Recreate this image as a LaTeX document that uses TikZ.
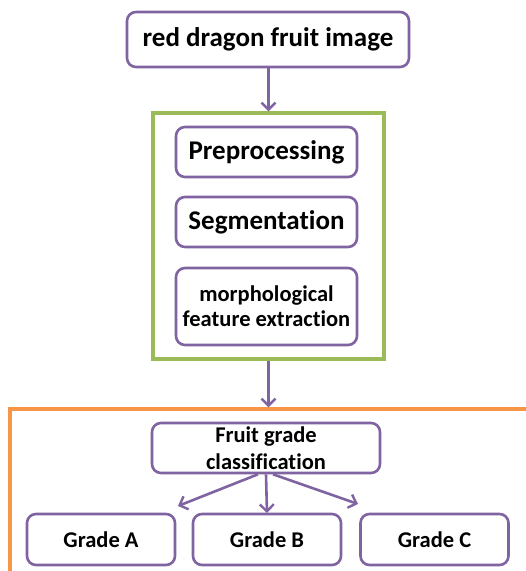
\documentclass[tikz,border=0pt]{standalone}
\usepackage{fontspec}
\setmainfont{Carlito}[Ligatures=NoCommon]
\usetikzlibrary{arrows.meta}
\definecolor{ppl}{HTML}{8064A2}
\definecolor{grn}{HTML}{9BBB59}
\definecolor{org}{HTML}{F79646}
\begin{document}
\begin{tikzpicture}[x=1pt,y=-1pt,
  pbox/.style={draw=ppl,line width=2.6pt,rounded corners=9pt,fill=white,align=center,inner sep=0pt,font=\bfseries},
  frmbox/.style={draw,line width=3.4pt,inner sep=0pt},
  arr/.style={draw=ppl,line width=2.6pt,-{Straight Barb[length=7pt,width=14pt,line width=2.4pt]}}]
\useasboundingbox (0,0) rectangle (526,571);
\clip (0,0) rectangle (526,571);
\fill[white] (0,0) rectangle (526,571);
\node[frmbox,draw=grn,minimum width=231pt,minimum height=246pt] (green) at (268.5,236) {};
\node[frmbox,draw=org,minimum width=530pt,minimum height=181pt] (orange) at (275,499.5) {};
\node[pbox,minimum width=282pt,minimum height=55pt,font=\bfseries\fontsize{27}{30}\selectfont] (top) at (268,39.5) {red dragon fruit image};
\node[pbox,minimum width=181pt,minimum height=50pt,font=\bfseries\fontsize{27}{30}\selectfont] (pre) at (266.5,152) {Preprocessing};
\node[pbox,minimum width=181pt,minimum height=50pt,font=\bfseries\fontsize{27}{30}\selectfont] (seg) at (266.5,222) {Segmentation};
\node[pbox,minimum width=181pt,minimum height=77pt,font=\bfseries\fontsize{22.5}{25}\selectfont] (mor) at (266.5,306.5) {morphological\\feature extraction};
\node[pbox,minimum width=228pt,minimum height=50pt,font=\bfseries\fontsize{22.5}{27}\selectfont] (fruit) at (266,448) {Fruit grade\\classification};
\node[pbox,minimum width=148pt,minimum height=51pt,font=\bfseries\fontsize{22.5}{25}\selectfont] (ga) at (101,539.5) {Grade A};
\node[pbox,minimum width=148pt,minimum height=51pt,font=\bfseries\fontsize{22.5}{25}\selectfont] (gb) at (267,539.5) {Grade B};
\node[pbox,minimum width=148pt,minimum height=51pt,font=\bfseries\fontsize{22.5}{25}\selectfont] (gc) at (434.5,539.5) {Grade C};
\coordinate (aEnd) at (178,506);
\coordinate (bEnd) at (267,513);
\coordinate (cEnd) at (358,504);
\draw[arr] (top.south -| green.north) -- (green.north);
\draw[arr] (green.south) -- (green.south |- orange.north);
\draw[arr] ([xshift=-8pt]fruit.south) -- (aEnd);
\draw[arr] (fruit.south) -- (bEnd);
\draw[arr] ([xshift=7pt]fruit.south) -- (cEnd);
\end{tikzpicture}
\end{document}
